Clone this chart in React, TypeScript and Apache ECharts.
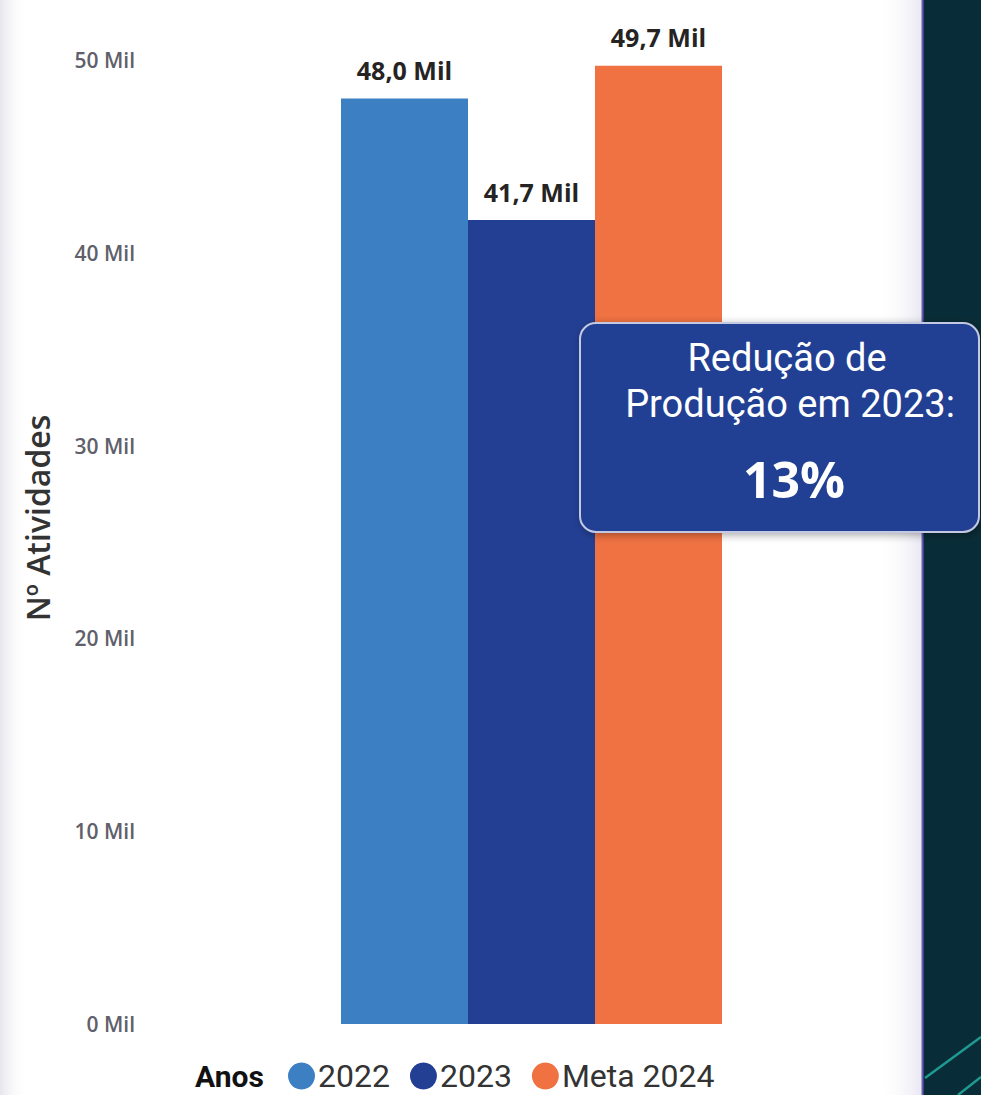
import React, { useEffect, useRef } from "react";
import * as echarts from "echarts";

const categories = ["Anos"];
const seriesNames = ["2022", "2023", "Meta 2024"];
const seriesValues = [[48000], [41700], [49700]];
const seriesColors = ["#3c7fc3", "#233f93", "#f07242"];
const yTicks = { min: 0, max: 50000, interval: 10000 };
const boxLines = ["Redução de", "Produção em 2023:"];
const boxValue = "13%";
const legendTitle = "Anos";
const axisTitle = "Nº Atividades";

const fmtMil = (v: number) => (v / 1000).toFixed(1).replace(".", ",") + " Mil";

export default function App() {
  const ref = useRef<HTMLDivElement>(null);
  useEffect(() => {
    document.body.style.margin = "0";
    const chart = echarts.init(ref.current!, undefined, { renderer: "svg" });
    const boxZ = 100;
    const option: any = {
      animation: false,
      backgroundColor: "#ffffff",
      grid: { left: 140, right: 58, top: 60, bottom: 71 },
      xAxis: {
        type: "category",
        data: categories,
        axisLine: { show: false },
        axisTick: { show: false },
        axisLabel: { show: false },
      },
      yAxis: {
        type: "value",
        min: yTicks.min,
        max: yTicks.max,
        interval: yTicks.interval,
        splitLine: { show: false },
        axisLine: { show: false },
        axisTick: { show: false },
        axisLabel: {
          margin: 5,
          fontFamily: "Open Sans",
          fontWeight: 600,
          fontSize: 21,
          color: "#60606a",
          formatter: (v: number) => v / 1000 + " Mil",
        },
      },
      legend: {
        left: 288,
        top: 1060,
        icon: "circle",
        itemWidth: 27,
        itemHeight: 27,
        itemGap: 20,
        padding: 0,
        textStyle: {
          fontFamily: "Roboto",
          fontSize: 32,
          lineHeight: 32,
          color: "#333333",
          padding: [0, 0, 0, -2],
        },
        data: seriesNames,
      },
      series: seriesNames.map((name, i) => ({
        name,
        type: "bar",
        data: seriesValues[i],
        barWidth: 127,
        barGap: "0%",
        itemStyle: { color: seriesColors[i] },
        label: {
          show: true,
          position: "top",
          distance: 16,
          fontFamily: "Open Sans",
          fontWeight: 700,
          fontSize: 25,
          color: "#252423",
          formatter: (p: any) => fmtMil(p.value),
        },
      })),
      graphic: [
        {
          type: "rect",
          shape: { x: 0, y: 0, width: 28, height: 1095 },
          style: {
            fill: new echarts.graphic.LinearGradient(0, 0, 1, 0, [
              { offset: 0, color: "#e6e6ee" },
              { offset: 1, color: "rgba(255,255,255,0)" },
            ]),
          },
          silent: true,
          z: -1,
        },
        {
          type: "rect",
          shape: { x: 878, y: 0, width: 44, height: 1095 },
          style: {
            fill: new echarts.graphic.LinearGradient(0, 0, 1, 0, [
              { offset: 0, color: "rgba(255,255,255,0)" },
              { offset: 1, color: "#e9e8f2" },
            ]),
          },
          silent: true,
          z: -1,
        },
        {
          type: "rect",
          shape: { x: 922, y: 0, width: 59, height: 1095 },
          style: { fill: "#092d38" },
          silent: true,
          z: 0,
        },
        {
          type: "line",
          shape: { x1: 922.5, y1: 0, x2: 922.5, y2: 1095 },
          style: { stroke: "#6a5cb8", lineWidth: 2 },
          silent: true,
          z: 1,
        },
        {
          type: "line",
          shape: { x1: 925, y1: 1078, x2: 981, y2: 1037 },
          style: { stroke: "#1f9a90", lineWidth: 2.5 },
          silent: true,
          z: 1,
        },
        {
          type: "line",
          shape: { x1: 958, y1: 1095, x2: 981, y2: 1077 },
          style: { stroke: "#1f9a90", lineWidth: 2.5 },
          silent: true,
          z: 1,
        },
        {
          type: "text",
          x: 37,
          y: 518,
          rotation: Math.PI / 2,
          style: {
            text: axisTitle,
            fontFamily: "Open Sans",
            fontWeight: 600,
            fontSize: 32,
            fill: "#333333",
            align: "center",
            verticalAlign: "middle",
          },
        },
        {
          type: "text",
          x: 195,
          y: 1076,
          style: {
            text: legendTitle,
            fontFamily: "Roboto",
            fontWeight: 700,
            fontSize: 30,
            fill: "#111111",
            align: "left",
            verticalAlign: "middle",
          },
        },
        {
          type: "rect",
          z: boxZ,
          shape: { x: 580, y: 323, width: 399, height: 209, r: 16 },
          style: {
            fill: "#233f93",
            stroke: "#c3c9e2",
            lineWidth: 2,
            shadowBlur: 8,
            shadowColor: "rgba(0,0,0,0.35)",
            shadowOffsetX: 2,
            shadowOffsetY: 2,
          },
        },
        {
          type: "text",
          z: boxZ + 1,
          x: 787,
          y: 358,
          style: {
            text: boxLines[0],
            fontFamily: "Roboto",
            fontSize: 38,
            fill: "#ffffff",
            align: "center",
            verticalAlign: "middle",
          },
        },
        {
          type: "text",
          z: boxZ + 1,
          x: 790,
          y: 404,
          style: {
            text: boxLines[1],
            fontFamily: "Roboto",
            fontSize: 38,
            fill: "#ffffff",
            align: "center",
            verticalAlign: "middle",
          },
        },
        {
          type: "text",
          z: boxZ + 1,
          x: 794,
          y: 479,
          style: {
            text: boxValue,
            fontFamily: "Open Sans",
            fontWeight: 700,
            fontSize: 50,
            fill: "#ffffff",
            align: "center",
            verticalAlign: "middle",
          },
        },
      ],
    };
    chart.setOption(option);
    return () => chart.dispose();
  }, []);
  return <div ref={ref} style={{ width: 981, height: 1095, background: "#fff" }} />;
}
